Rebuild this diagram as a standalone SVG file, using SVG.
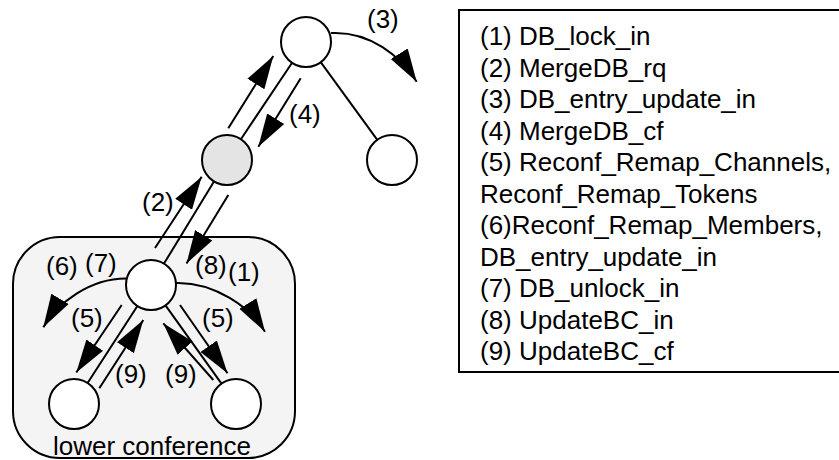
<svg xmlns="http://www.w3.org/2000/svg" width="839" height="460" viewBox="0 0 839 460">
  <style>
    text { font-family: "Liberation Sans", Arial, sans-serif; font-size: 26px; fill: #000; }
    .node { fill: #fff; stroke: #000; stroke-width: 2; }
    .node.merged { fill: #e4e4e4; }
    .edge { stroke: #000; stroke-width: 2; fill: none; }
    .msg { stroke: #000; stroke-width: 2; fill: none; marker-end: url(#head); }
    .frame { fill: #f4f4f4; stroke: #000; stroke-width: 2; }
    .legend-box { fill: #fff; stroke: #000; stroke-width: 2; }
  </style>
  <defs>
    <marker id="head" markerUnits="userSpaceOnUse" markerWidth="34" markerHeight="22" viewBox="0 0 34 22" refX="33" refY="11" orient="auto">
      <path d="M0,1 L33,11 L0,21 z" fill="#000"/>
    </marker>
  </defs>

  <!-- lower conference frame -->
  <g id="lower-conference">
    <rect class="frame" x="13" y="237" width="282" height="221" rx="47" ry="47"/>
    <text x="53" y="455">lower conference</text>
  </g>

  <!-- tree edges and message arrows -->
  <g id="connectors">
    <line class="edge" x1="240.9" y1="139.2" x2="292.1" y2="62.8"/>
    <line class="edge" x1="320.7" y1="62.2" x2="377.3" y2="139.8"/>
    <line class="edge" x1="164" y1="263.6" x2="214" y2="181.4"/>
    <line class="edge" x1="137.4" y1="306" x2="87.6" y2="383"/>
    <line class="edge" x1="165.5" y1="305.3" x2="221.5" y2="383.7"/>

    <line class="msg" x1="228.3" y1="128.3" x2="273.3" y2="56"/>
    <line class="msg" x1="300.7" y1="78.3" x2="258.3" y2="146.7"/>
    <path class="msg" d="M331,33 C370,31 400.8,56.2 416.7,81.7"/>

    <line class="msg" x1="155" y1="248" x2="201.7" y2="176.7"/>
    <line class="msg" x1="228.3" y1="195" x2="186.5" y2="263.5"/>

    <path class="msg" d="M127,278.5 C90,278 57.5,303.1 43.3,327.3"/>
    <path class="msg" d="M176,283 C215,282 250.4,307.7 265,331.7"/>

    <line class="msg" x1="121.7" y1="305" x2="76.3" y2="372.5"/>
    <line class="msg" x1="99.3" y1="388.3" x2="143.3" y2="320"/>
    <line class="msg" x1="213.3" y1="380" x2="163.3" y2="323.3"/>
    <line class="msg" x1="180" y1="305" x2="227.5" y2="373.3"/>

    <text x="367" y="28">(3)</text>
    <text x="289" y="122.5">(4)</text>
    <text x="142" y="211">(2)</text>
    <text x="46" y="275">(6)</text>
    <text x="85" y="271.5">(7)</text>
    <text x="195" y="273.5">(8)</text>
    <text x="228" y="280.5">(1)</text>
    <text x="71" y="326.5">(5)</text>
    <text x="202" y="326.5">(5)</text>
    <text x="115" y="383">(9)</text>
    <text x="165" y="383">(9)</text>
  </g>

  <g id="node-top"><circle class="node" cx="306" cy="42" r="25"/></g>
  <g id="node-merged"><circle class="node merged" cx="227" cy="160" r="25"/></g>
  <g id="node-right"><circle class="node" cx="392" cy="160" r="25"/></g>
  <g id="node-center"><circle class="node" cx="151" cy="285" r="25"/></g>
  <g id="node-bottom-left"><circle class="node" cx="74" cy="404" r="25"/></g>
  <g id="node-bottom-right"><circle class="node" cx="236" cy="404" r="25"/></g>

  <!-- message legend -->
  <g id="legend">
    <rect class="legend-box" x="459" y="10" width="390" height="362"/>
    <text x="480" y="45">(1) DB_lock_in</text>
    <text x="480" y="76.5">(2) MergeDB_rq</text>
    <text x="480" y="108">(3) DB_entry_update_in</text>
    <text x="480" y="139.5">(4) MergeDB_cf</text>
    <text x="480" y="171">(5) Reconf_Remap_Channels,</text>
    <text x="480" y="202.5">Reconf_Remap_Tokens</text>
    <text x="480" y="234">(6)Reconf_Remap_Members,</text>
    <text x="480" y="265.5">DB_entry_update_in</text>
    <text x="480" y="297">(7) DB_unlock_in</text>
    <text x="480" y="328.5">(8) UpdateBC_in</text>
    <text x="480" y="360">(9) UpdateBC_cf</text>
  </g>
</svg>
